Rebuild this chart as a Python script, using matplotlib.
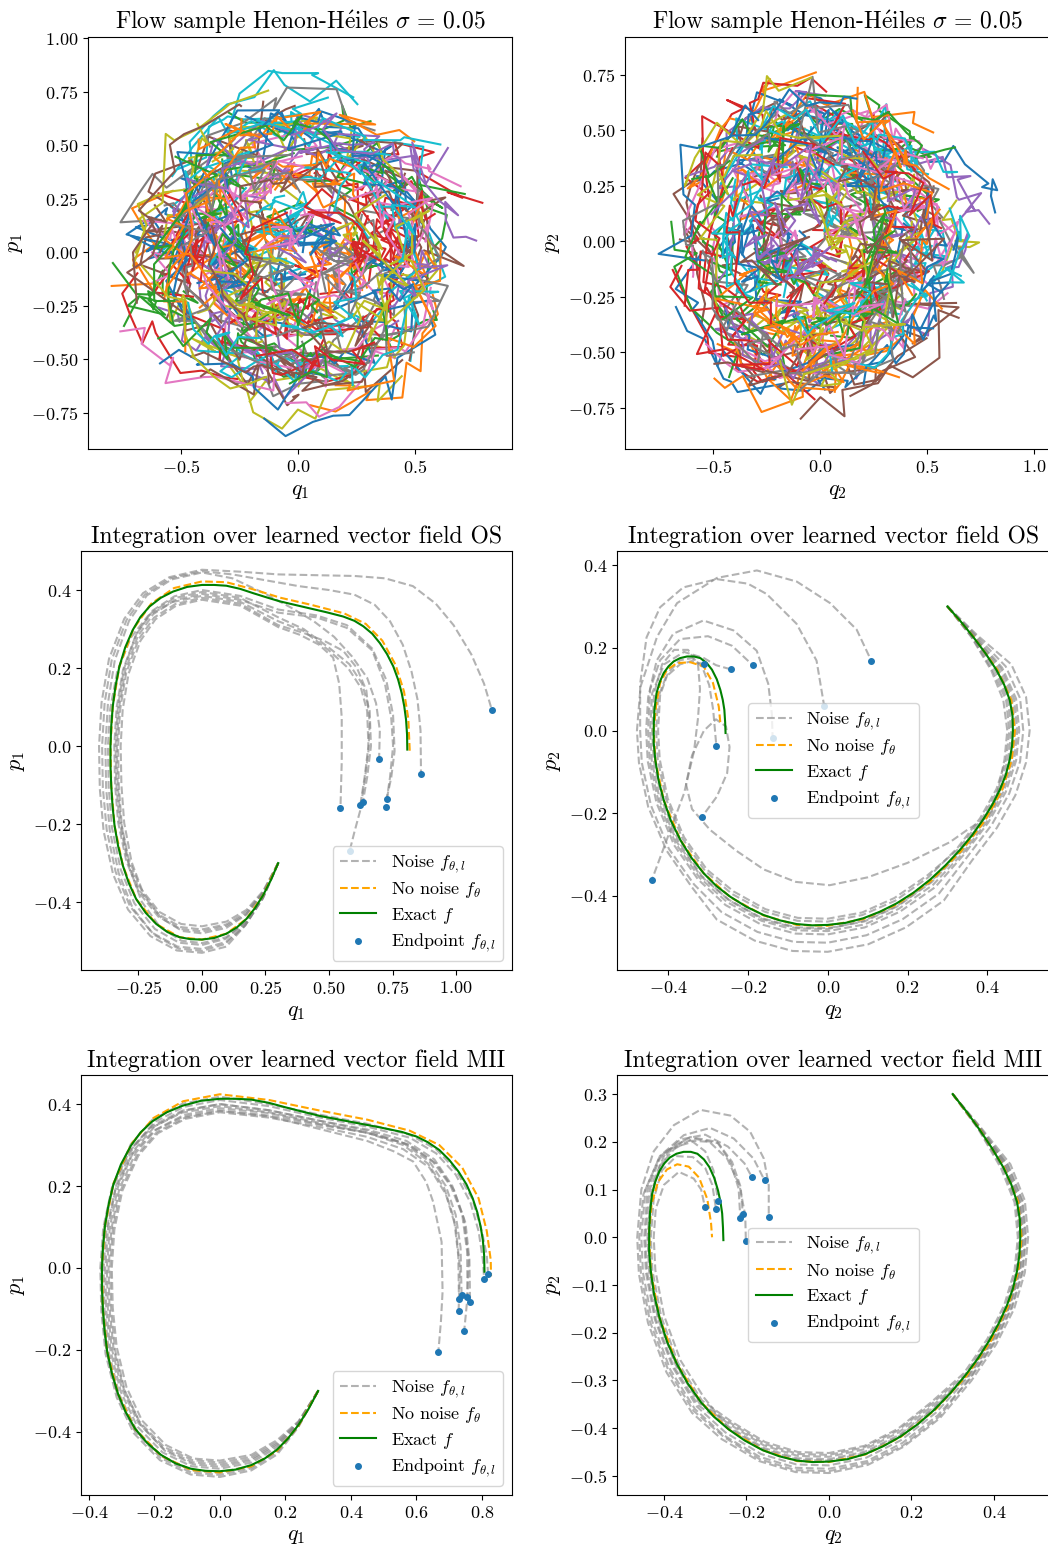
import numpy as np
import matplotlib.pyplot as plt

plt.rcParams['font.family'] = ['cmr10', 'DejaVu Serif']
plt.rcParams['mathtext.fontset'] = 'cm'
plt.rcParams['axes.formatter.use_mathtext'] = True
plt.rcParams['axes.unicode_minus'] = True
plt.rcParams['font.size'] = 13

# ---- sampled flow (top row): Henon-Heiles trajectories with observation noise
sigma = 0.05
n_traj = 240
n_pts = 10
dt = 0.12
init_radius_1 = 0.68   # max radius of start points in the (q1, p1) plane
init_radius_2 = 0.66   # max radius of start points in the (q2, p2) plane
max_radius_1 = 0.86    # samples leaving these radii are dropped (escaping orbits)
max_radius_2 = 0.88

# ---- exact trajectory (same in both OS and MII rows)
exact_q1p1 = [(0.30, -0.30), (0.27, -0.345), (0.24, -0.383), (0.208, -0.416), (0.175, -0.443),
              (0.137, -0.465), (0.096, -0.481), (0.048, -0.492), (0.0, -0.496), (-0.045, -0.495),
              (-0.088, -0.49), (-0.135, -0.477), (-0.18, -0.456), (-0.222, -0.427), (-0.259, -0.392),
              (-0.288, -0.351), (-0.311, -0.307), (-0.33, -0.256), (-0.344, -0.204), (-0.352, -0.153),
              (-0.357, -0.102), (-0.36, -0.05), (-0.36, 0.0), (-0.357, 0.051), (-0.351, 0.102),
              (-0.34, 0.154), (-0.325, 0.204), (-0.302, 0.253), (-0.272, 0.298), (-0.242, 0.331),
              (-0.206, 0.358), (-0.162, 0.38), (-0.114, 0.396), (-0.058, 0.408), (0.0, 0.413),
              (0.048, 0.413), (0.096, 0.411), (0.15, 0.403), (0.201, 0.392), (0.255, 0.381),
              (0.306, 0.371), (0.365, 0.362), (0.424, 0.353), (0.49, 0.343), (0.556, 0.332),
              (0.60, 0.321), (0.635, 0.307), (0.67, 0.288), (0.70, 0.264), (0.728, 0.236),
              (0.753, 0.204), (0.772, 0.17), (0.786, 0.136), (0.796, 0.102), (0.803, 0.068),
              (0.807, 0.03), (0.808, -0.009)]

exact_q2p2 = [(0.30, 0.30), (0.333, 0.264), (0.364, 0.227), (0.395, 0.187), (0.4225, 0.147),
              (0.442, 0.111), (0.456, 0.074), (0.463, 0.037), (0.464, 0.0), (0.462, -0.036),
              (0.456, -0.071), (0.446, -0.108), (0.431, -0.144), (0.412, -0.18), (0.389, -0.216),
              (0.362, -0.253), (0.331, -0.289), (0.295, -0.326), (0.256, -0.361), (0.215, -0.392),
              (0.1725, -0.418), (0.131, -0.438), (0.089, -0.454), (0.045, -0.465), (0.0, -0.47),
              (-0.039, -0.471), (-0.0775, -0.468), (-0.12, -0.459), (-0.161, -0.446), (-0.204, -0.426),
              (-0.244, -0.402), (-0.279, -0.376), (-0.311, -0.345), (-0.342, -0.307), (-0.369, -0.265),
              (-0.393, -0.218), (-0.411, -0.168), (-0.424, -0.12), (-0.432, -0.071), (-0.436, -0.03),
              (-0.436, 0.01), (-0.434, 0.052), (-0.429, 0.09), (-0.421, 0.117), (-0.411, 0.139),
              (-0.399, 0.155), (-0.386, 0.167), (-0.37, 0.175), (-0.3525, 0.179), (-0.335, 0.179),
              (-0.319, 0.175), (-0.303, 0.163), (-0.29, 0.147), (-0.278, 0.124), (-0.269, 0.098),
              (-0.263, 0.074), (-0.259, 0.05), (-0.257, 0.02), (-0.256, -0.006)]

# ---- OS model
os_nonoise_q1p1 = [(0.30, -0.30), (0.24, -0.383), (0.175, -0.443), (0.096, -0.481), (0.0, -0.496),
                   (-0.088, -0.49), (-0.18, -0.456), (-0.259, -0.392), (-0.311, -0.307), (-0.344, -0.204),
                   (-0.357, -0.102), (-0.36, 0.0), (-0.351, 0.102), (-0.325, 0.204), (-0.27, 0.30),
                   (-0.20, 0.365), (-0.11, 0.405), (0.0, 0.422), (0.096, 0.42), (0.20, 0.402),
                   (0.31, 0.38), (0.43, 0.362), (0.56, 0.34), (0.645, 0.313), (0.71, 0.27),
                   (0.762, 0.208), (0.795, 0.14), (0.812, 0.07), (0.818, -0.018)]

os_noise_q1p1 = [
    [(0.30, -0.30), (0.24, -0.39), (0.17, -0.46), (0.096, -0.514), (0.0, -0.53), (-0.099, -0.524),
     (-0.203, -0.487), (-0.291, -0.419), (-0.35, -0.328), (-0.387, -0.218), (-0.402, -0.109),
     (-0.405, 0.0), (-0.395, 0.112), (-0.366, 0.223), (-0.306, 0.326), (-0.232, 0.392),
     (-0.128, 0.433), (0.0, 0.452), (0.15, 0.447), (0.3, 0.44), (0.45, 0.438), (0.6, 0.436),
     (0.72, 0.43), (0.83, 0.41), (0.92, 0.365), (0.99, 0.31), (1.06, 0.235), (1.11, 0.16),
     (1.141, 0.092)],
    [(0.30, -0.30), (0.24, -0.388), (0.172, -0.457), (0.094, -0.502), (0.0, -0.52), (-0.096, -0.514),
     (-0.197, -0.478), (-0.283, -0.411), (-0.34, -0.322), (-0.375, -0.214), (-0.39, -0.107),
     (-0.393, 0.0), (-0.383, 0.111), (-0.355, 0.221), (-0.297, 0.323), (-0.225, 0.388),
     (-0.124, 0.43), (0.0, 0.448), (0.12, 0.44), (0.25, 0.425), (0.38, 0.41), (0.50, 0.40),
     (0.60, 0.388), (0.68, 0.362), (0.74, 0.32), (0.79, 0.26), (0.825, 0.19), (0.848, 0.12),
     (0.86, 0.04), (0.862, -0.071)],
    [(0.30, -0.30), (0.24, -0.39), (0.17, -0.46), (0.093, -0.507), (0.0, -0.525), (-0.093, -0.519),
     (-0.19, -0.483), (-0.273, -0.415), (-0.328, -0.325), (-0.363, -0.216), (-0.377, -0.108),
     (-0.38, 0.0), (-0.37, 0.11), (-0.343, 0.22), (-0.287, 0.321), (-0.217, 0.386),
     (-0.12, 0.427), (0.0, 0.445), (0.12, 0.43), (0.25, 0.39), (0.35, 0.355), (0.44, 0.32),
     (0.52, 0.28), (0.59, 0.23), (0.65, 0.175), (0.685, 0.11), (0.70, 0.04), (0.697, -0.032)],
    [(0.30, -0.30), (0.24, -0.375), (0.175, -0.425), (0.096, -0.457), (0.0, -0.47), (-0.083, -0.464),
     (-0.17, -0.432), (-0.245, -0.371), (-0.294, -0.291), (-0.325, -0.193), (-0.337, -0.097),
     (-0.34, 0.0), (-0.331, 0.099), (-0.307, 0.198), (-0.257, 0.289), (-0.195, 0.347),
     (-0.108, 0.384), (0.0, 0.40), (0.15, 0.385), (0.30, 0.35), (0.45, 0.335), (0.57, 0.31),
     (0.67, 0.25), (0.725, 0.17), (0.752, 0.08), (0.758, -0.013), (0.745, -0.08), (0.727, -0.135)],
    [(0.30, -0.30), (0.24, -0.372), (0.175, -0.42), (0.096, -0.45), (0.0, -0.462), (-0.082, -0.456),
     (-0.168, -0.425), (-0.241, -0.365), (-0.29, -0.286), (-0.32, -0.19), (-0.332, -0.095),
     (-0.335, 0.0), (-0.327, 0.096), (-0.302, 0.193), (-0.253, 0.281), (-0.192, 0.338),
     (-0.106, 0.374), (0.0, 0.39), (0.15, 0.375), (0.30, 0.342), (0.45, 0.33), (0.57, 0.303),
     (0.67, 0.245), (0.72, 0.16), (0.745, 0.07), (0.752, 0.0), (0.74, -0.08), (0.723, -0.155)],
    [(0.30, -0.30), (0.24, -0.378), (0.175, -0.43), (0.096, -0.461), (0.0, -0.475), (-0.084, -0.469),
     (-0.172, -0.437), (-0.248, -0.375), (-0.298, -0.294), (-0.33, -0.195), (-0.342, -0.098),
     (-0.345, 0.0), (-0.336, 0.098), (-0.311, 0.195), (-0.26, 0.285), (-0.197, 0.343),
     (-0.109, 0.379), (0.0, 0.395), (0.15, 0.38), (0.30, 0.33), (0.40, 0.30), (0.50, 0.252),
     (0.58, 0.21), (0.63, 0.16), (0.66, 0.09), (0.665, 0.0), (0.65, -0.08), (0.633, -0.144)],
    [(0.30, -0.30), (0.24, -0.386), (0.172, -0.452), (0.094, -0.494), (0.0, -0.51), (-0.09, -0.504),
     (-0.185, -0.469), (-0.266, -0.403), (-0.32, -0.316), (-0.354, -0.21), (-0.367, -0.105),
     (-0.37, 0.0), (-0.361, 0.095), (-0.334, 0.19), (-0.28, 0.278), (-0.212, 0.334),
     (-0.117, 0.369), (0.0, 0.385), (0.15, 0.37), (0.30, 0.32), (0.40, 0.295), (0.50, 0.245),
     (0.575, 0.2), (0.625, 0.15), (0.65, 0.09), (0.655, 0.0), (0.64, -0.08), (0.623, -0.151)],
    [(0.30, -0.30), (0.24, -0.378), (0.175, -0.432), (0.096, -0.466), (0.0, -0.48), (-0.078, -0.474),
     (-0.16, -0.441), (-0.23, -0.379), (-0.277, -0.297), (-0.306, -0.197), (-0.317, -0.099),
     (-0.32, 0.0), (-0.312, 0.093), (-0.289, 0.185), (-0.242, 0.27), (-0.183, 0.325),
     (-0.101, 0.36), (0.0, 0.375), (0.15, 0.36), (0.30, 0.305), (0.386, 0.285), (0.46, 0.26),
     (0.516, 0.227), (0.54, 0.16), (0.55, 0.073), (0.55, -0.04), (0.545, -0.158)],
    [(0.30, -0.30), (0.24, -0.385), (0.173, -0.45), (0.095, -0.49), (0.0, -0.505), (-0.081, -0.499),
     (-0.165, -0.464), (-0.237, -0.399), (-0.285, -0.313), (-0.315, -0.208), (-0.327, -0.104),
     (-0.33, 0.0), (-0.322, 0.094), (-0.298, 0.188), (-0.249, 0.274), (-0.189, 0.329),
     (-0.105, 0.364), (0.0, 0.38), (0.15, 0.365), (0.30, 0.31), (0.40, 0.29), (0.48, 0.27),
     (0.556, 0.244), (0.61, 0.2), (0.647, 0.142), (0.66, 0.06), (0.655, -0.013), (0.64, -0.09),
     (0.622, -0.167), (0.60, -0.22), (0.581, -0.269)],
]

os_nonoise_q2p2 = [(0.30, 0.30), (0.365, 0.227), (0.425, 0.147), (0.46, 0.074), (0.469, 0.0),
                   (0.461, -0.072), (0.436, -0.146), (0.393, -0.219), (0.334, -0.292), (0.258, -0.364),
                   (0.174, -0.42), (0.089, -0.456), (0.0, -0.472), (-0.0775, -0.47), (-0.161, -0.447),
                   (-0.244, -0.403), (-0.311, -0.345), (-0.369, -0.265), (-0.411, -0.168), (-0.432, -0.071),
                   (-0.436, 0.0), (-0.43, 0.06), (-0.42, 0.115), (-0.4025, 0.147), (-0.3775, 0.163),
                   (-0.344, 0.165), (-0.311, 0.155), (-0.2875, 0.115), (-0.273, 0.058), (-0.269, 0.018)]

os_noise_q2p2 = [
    [(0.30, 0.30), (0.375, 0.23), (0.46, 0.16), (0.497, 0.081), (0.506, 0.0), (0.497, -0.077),
     (0.47, -0.157), (0.424, -0.235), (0.361, -0.315), (0.291, -0.411), (0.196, -0.476),
     (0.101, -0.517), (0.0, -0.535), (-0.088, -0.533), (-0.183, -0.508), (-0.278, -0.457),
     (-0.341, -0.378), (-0.404, -0.29), (-0.45, -0.184), (-0.473, -0.078), (-0.478, 0.0),
     (-0.469, 0.106), (-0.4275, 0.227), (-0.3775, 0.308), (-0.2775, 0.369), (-0.1775, 0.387),
     (-0.0775, 0.36), (0.006, 0.308), (0.0725, 0.244), (0.109, 0.169)],
    [(0.30, 0.30), (0.372, 0.229), (0.446, 0.155), (0.482, 0.078), (0.49, 0.0), (0.482, -0.075),
     (0.455, -0.152), (0.411, -0.228), (0.35, -0.305), (0.279, -0.394), (0.188, -0.456),
     (0.097, -0.495), (0.0, -0.513), (-0.085, -0.511), (-0.176, -0.487), (-0.266, -0.439),
     (-0.335, -0.372), (-0.398, -0.286), (-0.443, -0.181), (-0.466, -0.077), (-0.47, 0.0),
     (-0.47, 0.113), (-0.454, 0.225), (-0.42, 0.298), (-0.362, 0.346), (-0.278, 0.366),
     (-0.2, 0.355), (-0.153, 0.33), (-0.078, 0.258), (-0.028, 0.169), (-0.009, 0.06)],
    [(0.30, 0.30), (0.369, 0.228), (0.437, 0.152), (0.472, 0.077), (0.48, 0.0), (0.472, -0.073),
     (0.446, -0.149), (0.402, -0.223), (0.342, -0.299), (0.269, -0.379), (0.181, -0.438),
     (0.093, -0.476), (0.0, -0.493), (-0.081, -0.491), (-0.169, -0.468), (-0.256, -0.422),
     (-0.325, -0.36), (-0.385, -0.277), (-0.429, -0.175), (-0.451, -0.074), (-0.455, 0.0),
     (-0.45, 0.08), (-0.4286, 0.169), (-0.387, 0.234), (-0.3115, 0.266), (-0.236, 0.242),
     (-0.178, 0.193), (-0.149, 0.113), (-0.14, 0.04), (-0.138, -0.018)],
    [(0.30, 0.30), (0.367, 0.227), (0.433, 0.151), (0.467, 0.076), (0.475, 0.0), (0.467, -0.073),
     (0.441, -0.147), (0.398, -0.221), (0.339, -0.296), (0.264, -0.373), (0.178, -0.431),
     (0.092, -0.469), (0.0, -0.485), (-0.08, -0.483), (-0.166, -0.46), (-0.252, -0.415),
     (-0.321, -0.356), (-0.381, -0.273), (-0.424, -0.173), (-0.446, -0.073), (-0.45, 0.0),
     (-0.445, 0.1), (-0.42, 0.17), (-0.37, 0.221), (-0.3, 0.228), (-0.24, 0.205), (-0.188, 0.158)],
    [(0.30, 0.30), (0.366, 0.227), (0.428, 0.149), (0.462, 0.075), (0.47, 0.0), (0.462, -0.072),
     (0.437, -0.146), (0.394, -0.219), (0.335, -0.293), (0.26, -0.367), (0.175, -0.425),
     (0.091, -0.462), (0.0, -0.478), (-0.079, -0.476), (-0.164, -0.454), (-0.248, -0.409),
     (-0.318, -0.352), (-0.377, -0.271), (-0.42, -0.172), (-0.441, -0.072), (-0.445, 0.0),
     (-0.44, 0.09), (-0.41, 0.16), (-0.36, 0.19), (-0.31, 0.175), (-0.28, 0.158), (-0.243, 0.148)],
    [(0.30, 0.30), (0.361, 0.226), (0.414, 0.144), (0.447, 0.073), (0.455, 0.0), (0.447, -0.07),
     (0.423, -0.141), (0.382, -0.212), (0.325, -0.284), (0.252, -0.355), (0.17, -0.411),
     (0.087, -0.446), (0.0, -0.462), (-0.076, -0.46), (-0.158, -0.438), (-0.24, -0.395),
     (-0.307, -0.34), (-0.364, -0.261), (-0.405, -0.166), (-0.426, -0.07), (-0.43, 0.0),
     (-0.425, 0.08), (-0.405, 0.13), (-0.37, 0.16), (-0.34, 0.168), (-0.31, 0.16)],
    [(0.30, 0.30), (0.363, 0.227), (0.419, 0.146), (0.452, 0.073), (0.46, 0.0), (0.452, -0.07),
     (0.427, -0.143), (0.386, -0.214), (0.328, -0.286), (0.25, -0.35), (0.167, -0.405),
     (0.086, -0.44), (0.0, -0.455), (-0.075, -0.453), (-0.156, -0.432), (-0.236, -0.389),
     (-0.303, -0.336), (-0.36, -0.258), (-0.401, -0.164), (-0.421, -0.069), (-0.425, 0.0),
     (-0.42, 0.085), (-0.40, 0.14), (-0.37, 0.17), (-0.34, 0.175), (-0.315, 0.155),
     (-0.297, 0.11), (-0.287, 0.05), (-0.279, -0.038)],
    [(0.30, 0.30), (0.36, 0.226), (0.41, 0.145), (0.44, 0.073), (0.45, 0.0), (0.443, -0.07),
     (0.43, -0.13), (0.415, -0.19), (0.39, -0.215), (0.35, -0.24), (0.306, -0.27), (0.2, -0.32),
     (0.1, -0.355), (0.005, -0.374), (-0.08, -0.366), (-0.16, -0.336), (-0.23, -0.29),
     (-0.295, -0.24), (-0.34, -0.19), (-0.355, -0.13), (-0.34, -0.06), (-0.31, 0.0),
     (-0.28, 0.027), (-0.255, 0.01), (-0.246, -0.04), (-0.252, -0.103), (-0.278, -0.16),
     (-0.316, -0.21)],
    [(0.30, 0.30), (0.364, 0.227), (0.423, 0.147), (0.457, 0.074), (0.465, 0.0), (0.457, -0.071),
     (0.432, -0.144), (0.39, -0.216), (0.332, -0.29), (0.258, -0.366), (0.174, -0.424),
     (0.09, -0.46), (0.0, -0.48), (-0.079, -0.478), (-0.164, -0.456), (-0.248, -0.41),
     (-0.316, -0.351), (-0.373, -0.269), (-0.415, -0.17), (-0.436, -0.072), (-0.44, 0.0),
     (-0.435, 0.09), (-0.415, 0.16), (-0.385, 0.195), (-0.35, 0.195), (-0.325, 0.16),
     (-0.32, 0.1), (-0.325, 0.03), (-0.335, -0.05), (-0.36, -0.152), (-0.394, -0.24),
     (-0.441, -0.362)],
]

# ---- MII model
mii_nonoise_q1p1 = [(0.30, -0.30), (0.24, -0.385), (0.175, -0.446), (0.096, -0.484), (0.0, -0.499),
                    (-0.088, -0.493), (-0.18, -0.458), (-0.259, -0.393), (-0.311, -0.307), (-0.344, -0.204),
                    (-0.357, -0.102), (-0.36, 0.0), (-0.351, 0.102), (-0.325, 0.206), (-0.27, 0.303),
                    (-0.203, 0.366), (-0.112, 0.407), (0.0, 0.424), (0.15, 0.41), (0.30, 0.385),
                    (0.45, 0.362), (0.58, 0.335), (0.67, 0.30), (0.74, 0.245), (0.79, 0.17),
                    (0.815, 0.09), (0.827, 0.02), (0.828, -0.02)]

mii_noise_q1p1 = [
    [(0.30, -0.30), (0.24, -0.386), (0.175, -0.449), (0.096, -0.489), (0.0, -0.505), (-0.088, -0.499),
     (-0.18, -0.464), (-0.259, -0.399), (-0.311, -0.313), (-0.344, -0.208), (-0.357, -0.104),
     (-0.36, 0.0), (-0.351, 0.103), (-0.325, 0.206), (-0.272, 0.302), (-0.206, 0.362),
     (-0.114, 0.401), (0.0, 0.418), (0.15, 0.40), (0.30, 0.375), (0.45, 0.352), (0.58, 0.325),
     (0.66, 0.29), (0.72, 0.24), (0.77, 0.17), (0.80, 0.09), (0.815, 0.03), (0.819, -0.015)],
    [(0.30, -0.30), (0.24, -0.381), (0.175, -0.438), (0.096, -0.475), (0.0, -0.49), (-0.086, -0.484),
     (-0.175, -0.45), (-0.252, -0.387), (-0.302, -0.303), (-0.334, -0.202), (-0.347, -0.101),
     (-0.35, 0.0), (-0.341, 0.101), (-0.316, 0.203), (-0.264, 0.296), (-0.2, 0.356),
     (-0.111, 0.393), (0.0, 0.41), (0.15, 0.395), (0.30, 0.368), (0.45, 0.345), (0.58, 0.318),
     (0.66, 0.28), (0.72, 0.228), (0.765, 0.16), (0.79, 0.09), (0.803, 0.02), (0.807, -0.027)],
    [(0.30, -0.30), (0.24, -0.378), (0.175, -0.429), (0.096, -0.466), (0.0, -0.48), (-0.084, -0.474),
     (-0.172, -0.441), (-0.248, -0.379), (-0.298, -0.297), (-0.33, -0.197), (-0.342, -0.099),
     (-0.345, 0.0), (-0.336, 0.099), (-0.311, 0.198), (-0.261, 0.289), (-0.197, 0.347),
     (-0.109, 0.384), (0.0, 0.40), (0.15, 0.385), (0.30, 0.36), (0.45, 0.335), (0.56, 0.305),
     (0.64, 0.26), (0.69, 0.2), (0.72, 0.13), (0.735, 0.05), (0.738, -0.066)],
    [(0.30, -0.30), (0.24, -0.388), (0.175, -0.455), (0.096, -0.494), (0.0, -0.51), (-0.089, -0.504),
     (-0.183, -0.469), (-0.263, -0.403), (-0.315, -0.316), (-0.349, -0.21), (-0.362, -0.105),
     (-0.365, 0.0), (-0.356, 0.098), (-0.33, 0.195), (-0.276, 0.285), (-0.209, 0.342),
     (-0.116, 0.379), (0.0, 0.395), (0.15, 0.38), (0.30, 0.355), (0.45, 0.33), (0.56, 0.30),
     (0.635, 0.255), (0.685, 0.195), (0.715, 0.12), (0.728, 0.03), (0.73, -0.076)],
    [(0.30, -0.30), (0.24, -0.376), (0.175, -0.425), (0.096, -0.461), (0.0, -0.475), (-0.083, -0.469),
     (-0.17, -0.437), (-0.245, -0.376), (-0.294, -0.294), (-0.325, -0.195), (-0.337, -0.098),
     (-0.34, 0.0), (-0.331, 0.096), (-0.307, 0.193), (-0.257, 0.281), (-0.195, 0.338),
     (-0.108, 0.374), (0.0, 0.39), (0.15, 0.378), (0.30, 0.352), (0.45, 0.33), (0.57, 0.303),
     (0.65, 0.26), (0.705, 0.2), (0.74, 0.13), (0.755, 0.04), (0.756, -0.072)],
    [(0.30, -0.30), (0.24, -0.385), (0.175, -0.447), (0.096, -0.485), (0.0, -0.50), (-0.087, -0.494),
     (-0.177, -0.46), (-0.255, -0.395), (-0.307, -0.309), (-0.339, -0.206), (-0.352, -0.103),
     (-0.355, 0.0), (-0.346, 0.095), (-0.32, 0.19), (-0.268, 0.278), (-0.203, 0.334),
     (-0.112, 0.369), (0.0, 0.385), (0.15, 0.372), (0.30, 0.35), (0.45, 0.33), (0.58, 0.30),
     (0.66, 0.255), (0.715, 0.19), (0.75, 0.11), (0.762, 0.02), (0.764, -0.082)],
    [(0.30, -0.30), (0.24, -0.374), (0.175, -0.42), (0.096, -0.456), (0.0, -0.47), (-0.081, -0.465),
     (-0.165, -0.432), (-0.238, -0.372), (-0.285, -0.291), (-0.315, -0.193), (-0.327, -0.097),
     (-0.33, 0.0), (-0.322, 0.094), (-0.298, 0.188), (-0.249, 0.274), (-0.189, 0.329),
     (-0.105, 0.364), (0.0, 0.38), (0.15, 0.367), (0.30, 0.345), (0.45, 0.32), (0.56, 0.29),
     (0.64, 0.245), (0.69, 0.18), (0.72, 0.1), (0.733, 0.0), (0.729, -0.105)],
    [(0.30, -0.30), (0.24, -0.384), (0.175, -0.445), (0.096, -0.483), (0.0, -0.498), (-0.089, -0.492),
     (-0.181, -0.458), (-0.261, -0.394), (-0.313, -0.308), (-0.346, -0.205), (-0.359, -0.102),
     (-0.362, 0.0), (-0.353, 0.099), (-0.327, 0.198), (-0.274, 0.289), (-0.207, 0.347),
     (-0.115, 0.384), (0.0, 0.40), (0.15, 0.385), (0.30, 0.36), (0.45, 0.338), (0.57, 0.31),
     (0.655, 0.265), (0.71, 0.2), (0.745, 0.12), (0.76, 0.02), (0.755, -0.08), (0.746, -0.154)],
    [(0.30, -0.30), (0.24, -0.379), (0.175, -0.433), (0.096, -0.47), (0.0, -0.485), (-0.082, -0.479),
     (-0.168, -0.446), (-0.241, -0.383), (-0.29, -0.3), (-0.32, -0.2), (-0.332, -0.1),
     (-0.335, 0.0), (-0.327, 0.095), (-0.303, 0.189), (-0.253, 0.276), (-0.192, 0.332),
     (-0.106, 0.367), (0.0, 0.383), (0.15, 0.37), (0.30, 0.34), (0.45, 0.31), (0.53, 0.285),
     (0.59, 0.26), (0.63, 0.21), (0.651, 0.162), (0.677, 0.064), (0.68, -0.058), (0.675, -0.13),
     (0.667, -0.206)],
]

mii_nonoise_q2p2 = [(0.30, 0.30), (0.365, 0.227), (0.424, 0.147), (0.459, 0.074), (0.467, 0.0),
                    (0.459, -0.072), (0.434, -0.145), (0.392, -0.218), (0.333, -0.291), (0.257, -0.362),
                    (0.173, -0.419), (0.089, -0.455), (0.0, -0.471), (-0.0775, -0.469), (-0.161, -0.446),
                    (-0.244, -0.402), (-0.311, -0.345), (-0.369, -0.265), (-0.411, -0.168), (-0.432, -0.071),
                    (-0.436, 0.01), (-0.43, 0.07), (-0.415, 0.115), (-0.393, 0.142), (-0.368, 0.153),
                    (-0.34, 0.148), (-0.315, 0.125), (-0.295, 0.08), (-0.286, 0.03), (-0.2835, 0.0)]

mii_noise_q2p2 = [
    [(0.30, 0.30), (0.37, 0.228), (0.44, 0.153), (0.475, 0.077), (0.483, 0.0), (0.475, -0.074),
     (0.449, -0.15), (0.405, -0.225), (0.345, -0.301), (0.269, -0.379), (0.181, -0.439),
     (0.094, -0.477), (0.0, -0.494), (-0.081, -0.492), (-0.169, -0.469), (-0.26, -0.423),
     (-0.332, -0.368), (-0.394, -0.283), (-0.439, -0.179), (-0.461, -0.076), (-0.465, 0.0),
     (-0.455, 0.1), (-0.425, 0.18), (-0.376, 0.235), (-0.312, 0.267), (-0.239, 0.255),
     (-0.191, 0.221), (-0.158, 0.165), (-0.146, 0.109), (-0.146, 0.042)],
    [(0.30, 0.30), (0.368, 0.228), (0.435, 0.151), (0.47, 0.076), (0.478, 0.0), (0.47, -0.073),
     (0.444, -0.148), (0.401, -0.222), (0.341, -0.298), (0.264, -0.373), (0.178, -0.431),
     (0.092, -0.469), (0.0, -0.485), (-0.08, -0.483), (-0.168, -0.46), (-0.255, -0.415),
     (-0.325, -0.36), (-0.385, -0.277), (-0.429, -0.175), (-0.451, -0.074), (-0.455, 0.0),
     (-0.445, 0.1), (-0.41, 0.17), (-0.352, 0.214), (-0.288, 0.229), (-0.231, 0.207),
     (-0.183, 0.165), (-0.156, 0.119)],
    [(0.30, 0.30), (0.366, 0.227), (0.43, 0.15), (0.464, 0.075), (0.472, 0.0), (0.464, -0.072),
     (0.438, -0.146), (0.396, -0.22), (0.337, -0.294), (0.26, -0.367), (0.175, -0.425),
     (0.09, -0.462), (0.0, -0.478), (-0.079, -0.476), (-0.165, -0.454), (-0.251, -0.409),
     (-0.32, -0.355), (-0.379, -0.272), (-0.422, -0.173), (-0.444, -0.073), (-0.448, 0.0),
     (-0.44, 0.1), (-0.41, 0.165), (-0.36, 0.205), (-0.30, 0.215), (-0.245, 0.19),
     (-0.205, 0.155), (-0.187, 0.126)],
    [(0.30, 0.30), (0.366, 0.227), (0.428, 0.149), (0.462, 0.075), (0.47, 0.0), (0.462, -0.072),
     (0.437, -0.146), (0.394, -0.219), (0.335, -0.293), (0.253, -0.357), (0.171, -0.414),
     (0.088, -0.449), (0.0, -0.465), (-0.077, -0.463), (-0.159, -0.441), (-0.241, -0.398),
     (-0.317, -0.352), (-0.377, -0.27), (-0.42, -0.171), (-0.441, -0.072), (-0.445, 0.0),
     (-0.435, 0.1), (-0.395, 0.18), (-0.336, 0.21), (-0.2715, 0.2), (-0.239, 0.158),
     (-0.219, 0.102), (-0.215, 0.04)],
    [(0.30, 0.30), (0.365, 0.227), (0.426, 0.148), (0.46, 0.075), (0.468, 0.0), (0.46, -0.072),
     (0.435, -0.145), (0.392, -0.218), (0.334, -0.291), (0.251, -0.353), (0.169, -0.409),
     (0.087, -0.444), (0.0, -0.46), (-0.076, -0.458), (-0.158, -0.436), (-0.239, -0.393),
     (-0.314, -0.348), (-0.372, -0.267), (-0.415, -0.17), (-0.436, -0.072), (-0.44, 0.0),
     (-0.43, 0.1), (-0.39, 0.178), (-0.33, 0.207), (-0.268, 0.197), (-0.235, 0.158),
     (-0.214, 0.105), (-0.209, 0.049)],
    [(0.30, 0.30), (0.367, 0.227), (0.433, 0.151), (0.468, 0.076), (0.476, 0.0), (0.468, -0.073),
     (0.442, -0.148), (0.399, -0.222), (0.34, -0.297), (0.267, -0.376), (0.18, -0.436),
     (0.093, -0.473), (0.0, -0.49), (-0.081, -0.488), (-0.168, -0.465), (-0.254, -0.419),
     (-0.328, -0.364), (-0.389, -0.28), (-0.434, -0.177), (-0.456, -0.075), (-0.46, 0.0),
     (-0.45, 0.09), (-0.41, 0.17), (-0.35, 0.203), (-0.29, 0.2), (-0.247, 0.165),
     (-0.217, 0.109), (-0.203, 0.046), (-0.2015, -0.008)],
    [(0.30, 0.30), (0.363, 0.227), (0.421, 0.146), (0.454, 0.074), (0.462, 0.0), (0.454, -0.071),
     (0.429, -0.143), (0.387, -0.215), (0.33, -0.288), (0.248, -0.35), (0.167, -0.405),
     (0.086, -0.44), (0.0, -0.456), (-0.075, -0.454), (-0.156, -0.433), (-0.237, -0.39),
     (-0.312, -0.347), (-0.371, -0.266), (-0.413, -0.169), (-0.434, -0.071), (-0.438, 0.0),
     (-0.43, 0.09), (-0.41, 0.15), (-0.37, 0.19), (-0.33, 0.2), (-0.30, 0.18), (-0.28, 0.14),
     (-0.269, 0.076)],
    [(0.30, 0.30), (0.362, 0.227), (0.417, 0.145), (0.45, 0.073), (0.458, 0.0), (0.45, -0.07),
     (0.425, -0.142), (0.384, -0.213), (0.327, -0.285), (0.246, -0.347), (0.166, -0.402),
     (0.086, -0.437), (0.0, -0.452), (-0.075, -0.45), (-0.155, -0.429), (-0.235, -0.387),
     (-0.308, -0.342), (-0.366, -0.263), (-0.407, -0.166), (-0.428, -0.07), (-0.432, 0.0),
     (-0.425, 0.08), (-0.405, 0.14), (-0.37, 0.17), (-0.33, 0.168), (-0.30, 0.145),
     (-0.283, 0.11), (-0.274, 0.06)],
    [(0.30, 0.30), (0.364, 0.227), (0.423, 0.147), (0.457, 0.074), (0.465, 0.0), (0.457, -0.071),
     (0.432, -0.144), (0.39, -0.216), (0.332, -0.289), (0.255, -0.359), (0.172, -0.416),
     (0.089, -0.452), (0.0, -0.468), (-0.077, -0.466), (-0.16, -0.444), (-0.243, -0.40),
     (-0.303, -0.336), (-0.36, -0.258), (-0.40, -0.164), (-0.421, -0.069), (-0.425, 0.0),
     (-0.42, 0.06), (-0.40, 0.11), (-0.364, 0.137), (-0.328, 0.123), (-0.31, 0.1), (-0.301, 0.064)],
]


def hh_rhs(s):
    q1, q2, p1, p2 = s[:, 0], s[:, 1], s[:, 2], s[:, 3]
    return np.stack([p1, p2, -q1 - 2 * q1 * q2, -q2 - q1 ** 2 + q2 ** 2], axis=1)


def draw_model(ax, noise, nonoise, exact, loc):
    for i, curve in enumerate(noise):
        q, p = zip(*curve)
        ax.plot(q, p, '--', color='gray', alpha=0.6, lw=1.5,
                label=r'Noise $f_{\theta,l}$' if i == 0 else None)
    q, p = zip(*nonoise)
    ax.plot(q, p, '--', color='orange', lw=1.5, label=r'No noise $f_\theta$')
    q, p = zip(*exact)
    ax.plot(q, p, color='green', lw=1.5, label=r'Exact $f$')
    ends = [c[-1] for c in noise]
    eq, ep = zip(*ends)
    ax.scatter(eq, ep, s=16, color='C0', zorder=3, label=r'Endpoint $f_{\theta,l}$')
    ax.legend(loc=loc, fontsize=13, labelspacing=0.3)


fig = plt.figure(figsize=(10.48, 15.49), dpi=100)
W, H = 1048, 1549


def add_ax(x0, y0, x1, y1):
    return fig.add_axes([x0 / W, 1 - y1 / H, (x1 - x0) / W, (y1 - y0) / H])


ax_tl = add_ax(88, 37, 512, 449)
ax_tr = add_ax(625, 37, 1050, 449)
ax_ml = add_ax(81, 551, 512, 970)
ax_mr = add_ax(617, 551, 1050, 970)
ax_bl = add_ax(81, 1075, 512, 1495)
ax_br = add_ax(617, 1075, 1050, 1495)

# top row: sampled noisy flow
rng = np.random.default_rng(11)
cand = rng.uniform(-0.7, 0.7, (4000, 4))
keep = ((cand[:, 0] ** 2 + cand[:, 2] ** 2 < init_radius_1 ** 2)
        & (cand[:, 1] ** 2 + cand[:, 3] ** 2 < init_radius_2 ** 2))
state = cand[keep]
path = [state]
for _ in range(n_pts - 1):
    k1 = hh_rhs(state)
    k2 = hh_rhs(state + 0.5 * dt * k1)
    k3 = hh_rhs(state + 0.5 * dt * k2)
    k4 = hh_rhs(state + dt * k3)
    state = state + dt / 6 * (k1 + 2 * k2 + 2 * k3 + k4)
    path.append(state)
path = np.array(path)
path = path + rng.normal(0, sigma, path.shape)
r1 = np.sqrt(path[:, :, 0] ** 2 + path[:, :, 2] ** 2).max(axis=0)
r2 = np.sqrt(path[:, :, 1] ** 2 + path[:, :, 3] ** 2).max(axis=0)
path = path[:, (r1 < max_radius_1) & (r2 < max_radius_2)][:, :n_traj]

for i in range(path.shape[1]):
    ax_tl.plot(path[:, i, 0], path[:, i, 2], lw=1.5)
    ax_tr.plot(path[:, i, 1], path[:, i, 3], lw=1.5)

title_flow = r'Flow sample Henon-H$\acute{\mathrm{e}}$iles $\sigma$ = 0.05'
ax_tl.set_title(title_flow, fontsize=17)
ax_tr.set_title(title_flow, fontsize=17)
ax_tl.set_xlim(-0.897, 0.915)
ax_tl.set_ylim(-0.918, 1.005)
ax_tl.set_xticks([-0.5, 0.0, 0.5])
ax_tl.set_yticks([-0.75, -0.5, -0.25, 0.0, 0.25, 0.5, 0.75, 1.0])
ax_tr.set_xlim(-0.911, 1.075)
ax_tr.set_ylim(-0.935, 0.921)
ax_tr.set_xticks([-0.5, 0.0, 0.5, 1.0])
ax_tr.set_yticks([-0.75, -0.5, -0.25, 0.0, 0.25, 0.5, 0.75])

draw_model(ax_ml, os_noise_q1p1, os_nonoise_q1p1, exact_q1p1, 'lower right')
draw_model(ax_mr, os_noise_q2p2, os_nonoise_q2p2, exact_q2p2, 'center')
draw_model(ax_bl, mii_noise_q1p1, mii_nonoise_q1p1, exact_q1p1, 'lower right')
draw_model(ax_br, mii_noise_q2p2, mii_nonoise_q2p2, exact_q2p2, 'center')

ax_ml.set_title('Integration over learned vector field OS', fontsize=17)
ax_mr.set_title('Integration over learned vector field OS', fontsize=17)
ax_bl.set_title('Integration over learned vector field MII', fontsize=17)
ax_br.set_title('Integration over learned vector field MII', fontsize=17)

ax_ml.set_xlim(-0.476, 1.22)
ax_ml.set_ylim(-0.574, 0.50)
ax_ml.set_xticks([-0.25, 0.0, 0.25, 0.5, 0.75, 1.0])
ax_ml.set_yticks([-0.4, -0.2, 0.0, 0.2, 0.4])
ax_mr.set_xlim(-0.528, 0.557)
ax_mr.set_ylim(-0.579, 0.434)
ax_mr.set_xticks([-0.4, -0.2, 0.0, 0.2, 0.4])
ax_mr.set_yticks([-0.4, -0.2, 0.0, 0.2, 0.4])
ax_bl.set_xlim(-0.424, 0.892)
ax_bl.set_ylim(-0.554, 0.471)
ax_bl.set_xticks([-0.4, -0.2, 0.0, 0.2, 0.4, 0.6, 0.8])
ax_bl.set_yticks([-0.4, -0.2, 0.0, 0.2, 0.4])
ax_br.set_xlim(-0.514, 0.536)
ax_br.set_ylim(-0.540, 0.340)
ax_br.set_xticks([-0.4, -0.2, 0.0, 0.2, 0.4])
ax_br.set_yticks([-0.5, -0.4, -0.3, -0.2, -0.1, 0.0, 0.1, 0.2, 0.3])

for ax in (ax_tl, ax_ml, ax_bl):
    ax.set_xlabel('$q_1$', fontsize=16)
    ax.set_ylabel('$p_1$', fontsize=16)
for ax in (ax_tr, ax_mr, ax_br):
    ax.set_xlabel('$q_2$', fontsize=16)
    ax.set_ylabel('$p_2$', fontsize=16)
for ax in (ax_tl, ax_tr, ax_ml, ax_mr, ax_bl, ax_br):
    ax.tick_params(labelsize=13)

fig.savefig('out.png', dpi=100)
